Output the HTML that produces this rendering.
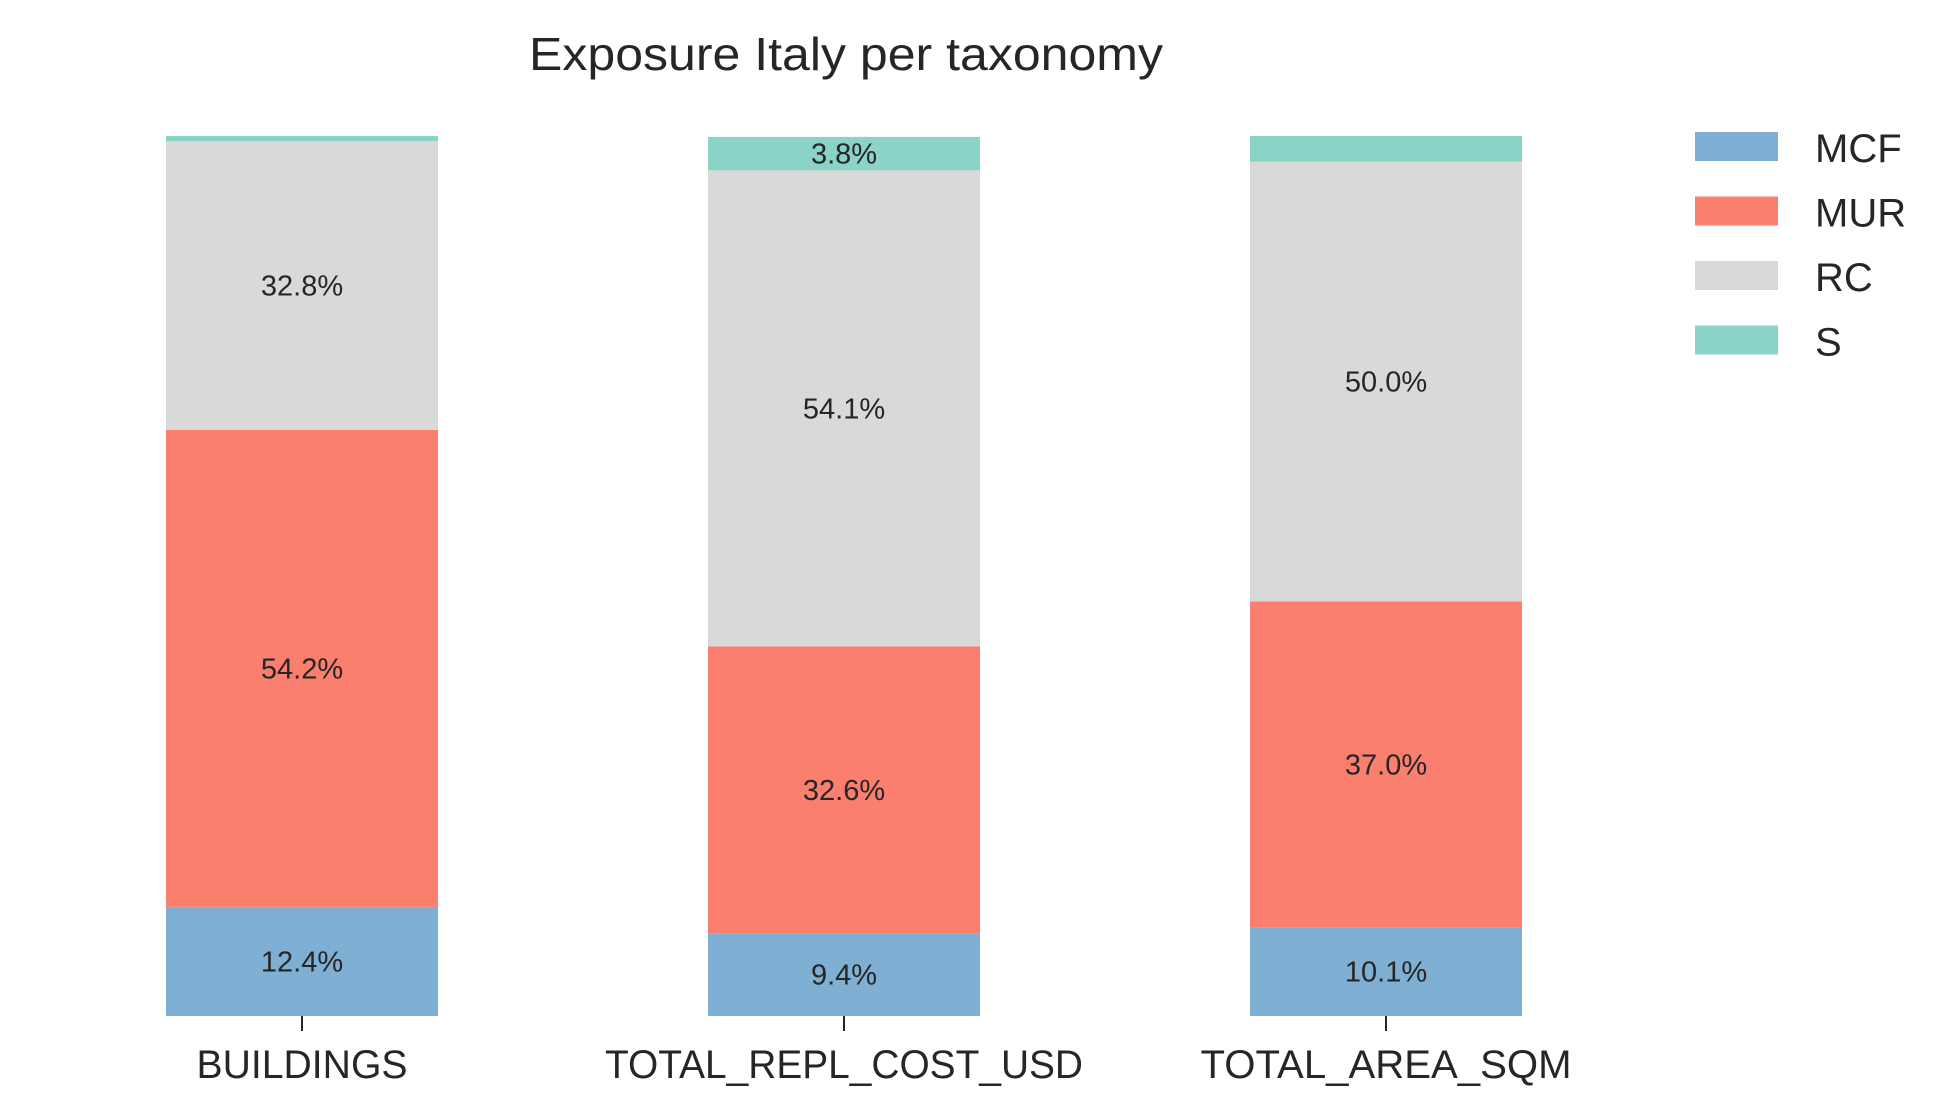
<!DOCTYPE html>
<html><head><meta charset="utf-8"><style>
html,body{margin:0;padding:0;background:#fff;}
svg{display:block;font-family:"Liberation Sans",sans-serif;}
</style></head><body>
<svg id="chart" width="1948" height="1119" viewBox="0 0 1948 1119">
<text x="846" y="70" font-size="46" fill="#262626" text-anchor="middle" textLength="634" lengthAdjust="spacingAndGlyphs">Exposure Italy per taxonomy</text>
<g id="bars"></g><g id="xaxis"></g><g id="legend"></g>
</svg>
<script>
const categories = ["BUILDINGS", "TOTAL_REPL_COST_USD", "TOTAL_AREA_SQM"];
const seriesNames = ["MCF", "MUR", "RC", "S"];
const mcf = [12.4, 9.4, 10.1];
const mur = [54.2, 32.6, 37.0];
const rc = [32.8, 54.1, 50.0];
const s = [0.6, 3.8, 2.9];
const labelWidths = [211, 478, 371];

const colors = ["#7fafd2", "#fa7f6f", "#d9d9d9", "#8cd3c7"];
const series = [mcf, mur, rc, s];
const NS = "http://www.w3.org/2000/svg";
const y0 = 1016, yTop = 136, barW = 272;
function yScale(v){ return y0 - v / 100 * (y0 - yTop); }
function xCenter(i){ return 302 + i * 542; }
function mk(tag, attrs, parent){ const e = document.createElementNS(NS, tag); for (const k in attrs) e.setAttribute(k, attrs[k]); parent.appendChild(e); return e; }

const gb = document.getElementById("bars");
const gx = document.getElementById("xaxis");
categories.forEach((c, i) => {
  let cum = 0;
  series.forEach((arr, j) => {
    const v = arr[i];
    const yb = yScale(cum), yt = yScale(cum + v);
    const r = mk("rect", {x: xCenter(i) - barW/2, y: yt, width: barW, height: yb - yt, fill: colors[j]}, gb);
    
    
    if (v >= 2 && !(j === 3 && i === 2)) {
      const t = mk("text", {x: xCenter(i), y: (yb + yt) / 2 + 10, "font-size": 29, fill: "#262626", "text-anchor": "middle"}, gb);
      t.textContent = v.toFixed(1) + "%";
      
      
    }
    cum += v;
  });
  const tk = mk("line", {x1: xCenter(i), x2: xCenter(i), y1: y0, y2: y0 + 15, stroke: "#262626", "stroke-width": 2}, gx);
  
  
  const lt = mk("text", {x: xCenter(i), y: 1078, "font-size": 40, fill: "#262626", "text-anchor": "middle", textLength: labelWidths[i], lengthAdjust: "spacingAndGlyphs"}, gx);
  lt.textContent = c;
  
  
});

const gl = document.getElementById("legend");
seriesNames.forEach((n, j) => {
  const y = 132 + j * 64.5;
  const r = mk("rect", {x: 1695, y: y, width: 83, height: 29, fill: colors[j]}, gl);
  
  
  const t = mk("text", {x: 1815, y: y + 30, "font-size": 40, fill: "#262626"}, gl);
  t.textContent = n;
  
  
});
</script>
</body></html>
